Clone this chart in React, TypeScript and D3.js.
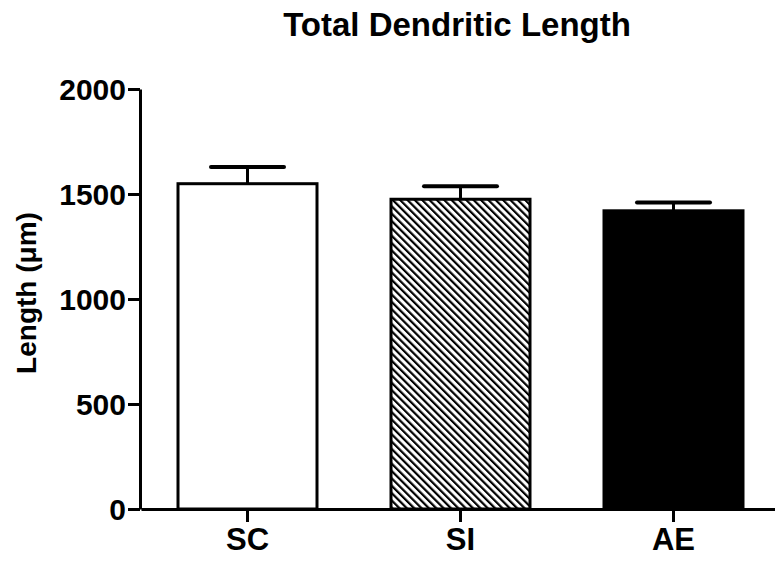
import React, { useEffect, useRef } from 'react';
import * as d3 from 'd3';

const categories = ['SC', 'SI', 'AE'];
const means = [1549, 1475, 1420];
const sems = [79, 62, 40];
const yTicks = [0, 500, 1000, 1500, 2000];

const W = 775;
const H = 561;

const App = () => {
  const svgRef = useRef<SVGSVGElement>(null);

  useEffect(() => {
    const svg = d3.select(svgRef.current);
    svg.selectAll('*').remove();

    const font = '"Liberation Sans", Arial, Helvetica, sans-serif';
    const data = categories.map((c, i) => ({ name: c, mean: means[i], sem: sems[i] }));

    const x = d3.scaleBand()
      .domain(categories)
      .range([141, 780])
      .paddingInner(1 / 3)
      .paddingOuter(1 / 6);

    const y = d3.scaleLinear()
      .domain([0, 2000])
      .range([509, 89]);

    // hatch pattern for SI
    const defs = svg.append('defs');
    const pat = defs.append('pattern')
      .attr('id', 'hatch')
      .attr('patternUnits', 'userSpaceOnUse')
      .attr('width', 5.2)
      .attr('height', 5.2)
      .attr('patternTransform', 'rotate(-45)');
    pat.append('rect').attr('width', 5.2).attr('height', 5.2).attr('fill', '#fff');
    pat.append('line')
      .attr('x1', 1.1).attr('y1', 0)
      .attr('x2', 1.1).attr('y2', 5.2)
      .attr('stroke', '#000')
      .attr('stroke-width', 2.2);

    // title
    svg.append('text')
      .attr('x', 457)
      .attr('y', 36)
      .attr('text-anchor', 'middle')
      .style('font-family', font)
      .style('font-weight', 'bold')
      .style('font-size', '33px')
      .text('Total Dendritic Length');

    // y axis label
    svg.append('text')
      .attr('transform', 'translate(36,293) rotate(-90)')
      .attr('text-anchor', 'middle')
      .style('font-family', font)
      .style('font-weight', 'bold')
      .style('font-size', '28px')
      .text('Length (\u03bcm)');

    const fills = ['#fff', 'url(#hatch)', '#000'];

    // bars
    svg.selectAll('.bar')
      .data(data)
      .enter().append('rect')
      .attr('class', 'bar')
      .attr('x', d => (x(d.name) as number) + 1.5)
      .attr('y', d => y(d.mean))
      .attr('width', x.bandwidth() - 3)
      .attr('height', d => y(0) - y(d.mean))
      .attr('fill', (d, i) => fills[i])
      .attr('stroke', '#000')
      .attr('stroke-width', 3);

    // error bars
    const capHalf = x.bandwidth() / 4 + 1;
    const err = svg.append('g');
    data.forEach(d => {
      const cx = (x(d.name) as number) + x.bandwidth() / 2;
      err.append('line')
        .attr('x1', cx).attr('x2', cx)
        .attr('y1', y(d.mean)).attr('y2', y(d.mean + d.sem))
        .attr('stroke', '#000').attr('stroke-width', 3);
      err.append('line')
        .attr('x1', cx - capHalf).attr('x2', cx + capHalf)
        .attr('y1', y(d.mean + d.sem)).attr('y2', y(d.mean + d.sem))
        .attr('stroke', '#000').attr('stroke-width', 4)
        .attr('stroke-linecap', 'round');
    });

    // y axis
    const yAxis = svg.append('g')
      .attr('transform', 'translate(140,0)')
      .call(d3.axisLeft(y).tickValues(yTicks).tickSize(12).tickSizeOuter(0).tickPadding(2).tickFormat(d3.format('d')));
    yAxis.select('.domain').attr('stroke-width', 3);
    yAxis.selectAll('.tick line').attr('stroke-width', 3);
    yAxis.selectAll('text')
      .style('font-family', font)
      .style('font-weight', 'bold')
      .style('font-size', '30px')
      .attr('dy', '0.36em');

    // x axis
    const xAxis = svg.append('g')
      .attr('transform', 'translate(0,509)')
      .call(d3.axisBottom(x).tickSize(13).tickSizeOuter(0).tickPadding(4));
    xAxis.select('.domain').attr('stroke-width', 3);
    xAxis.selectAll('.tick line').attr('stroke-width', 3);
    xAxis.selectAll('text')
      .style('font-family', font)
      .style('font-weight', 'bold')
      .style('font-size', '31px')
      .attr('dy', '0.78em');
  }, []);

  return (
    <svg
      ref={svgRef}
      width={W}
      height={H}
      style={{ position: 'absolute', left: 0, top: 0, background: '#fff' }}
    />
  );
};

export default App;
